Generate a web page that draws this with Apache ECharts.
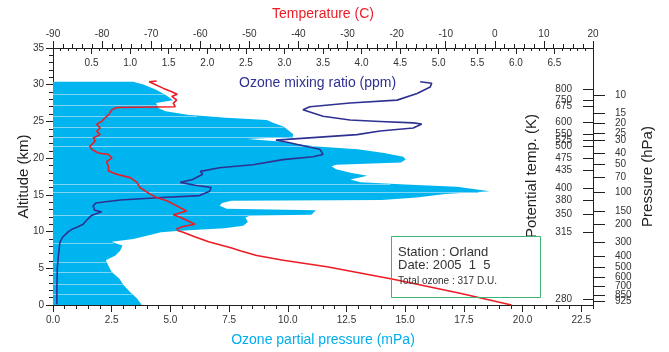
<!DOCTYPE html>
<html>
<head>
<meta charset="utf-8">
<script src="https://cdn.jsdelivr.net/npm/echarts@6.0.0/dist/echarts.min.js"></script>
<style>
  html, body { margin: 0; padding: 0; background: #fff; }
  #ozone { width: 669px; height: 352px; }
</style>
</head>
<body>
<div id="ozone"></div>
<script>
// ozone partial pressure profile (mPa) vs altitude (km)
var ppAlt = [0, 0.45, 0.9, 1.8, 2.7, 3.6, 4.5, 5.4, 6.1, 6.75, 7.4, 8.1, 8.4, 8.6, 9.0, 9.5, 9.9, 10.1,
  10.45, 10.8, 11.3, 11.9, 12.2, 12.3, 12.9, 13.1, 13.5, 13.9, 14.2, 14.3, 14.65, 15.1, 15.5, 15.8,
  16.1, 16.4, 16.7, 17.1, 17.6, 18.0, 18.5, 18.9, 19.1, 19.4, 19.8, 20.2, 20.7, 21.2, 21.6, 22.0,
  22.3, 22.6, 22.9, 23.3, 23.8, 24.3, 24.8, 25.2, 25.5, 25.9, 26.4, 26.8, 27.5, 27.9, 28.6, 29.3, 30.0, 30.4];
var ozonePP = [3.78, 3.68, 3.58, 3.27, 3.01, 2.82, 2.5, 2.35, 2.25, 2.66, 2.86, 2.96, 2.66, 2.5, 3.42, 4.09, 4.6, 5.42,
  7.3, 8.1, 8.3, 8.2, 8.4, 11.0, 11.2, 7.4, 7.1, 7.2, 7.6, 14.0, 15.5, 16.7, 18.6, 17.9,
  17.2, 15.0, 13.1, 12.67, 13.39, 12.67, 12.06, 11.86, 12.06, 14.82, 15.02, 14.92, 14.1, 12.98, 11.24, 10.22,
  9.5, 8.28, 10.22, 10.22, 10.02, 9.81, 9.4, 9.1, 7.36, 5.72, 4.8, 4.5, 4.39, 5.11, 4.8, 4.39, 3.88, 3.42];
// pale seams seen across the filled profile
var seamAlt = [1.45, 2.9, 4.5, 5.9, 8.5, 12.2, 15.4, 16.5, 21.6, 22.9, 24.3, 25.8, 27.3, 28.7];

// temperature (C)
var tAlt = [0, 1.6, 3.5, 5.2, 6.1, 6.75, 7.4, 7.75, 8.6, 9.25, 9.9, 10.1, 10.4, 10.7, 11.0, 11.6, 11.95, 12.3, 12.8,
  13.5, 14.2, 14.65, 15.1, 15.3, 16.0, 16.7, 17.35, 17.8, 18.25, 18.9, 19.5, 20.05, 20.5, 20.7, 21.2, 21.6,
  22.3, 22.75, 23.2, 23.65, 24.1, 24.6, 25.0, 25.5, 25.9, 26.6, 26.9, 27.0, 27.5, 27.9, 28.4, 28.7, 29.05,
  29.5, 30.4, 30.5];
var temp = [3.4, -7.1, -20.7, -34.2, -43.1, -48.5, -51.9, -53.6, -58.3, -61.0, -63.5, -64.5, -64.8, -63.5, -61.1, -63.0, -64.1, -65.5, -62.8,
  -64.8, -66.8, -68.9, -70.2, -70.2, -72.3, -72.9, -74.3, -77.0, -78.7, -78.7, -79.1, -78.0, -78.7, -80.8, -82.1, -82.5,
  -81.4, -81.8, -80.4, -81.1, -80.4, -81.1, -80.1, -79.4, -78.7, -78.0, -77.0, -65.1, -65.5, -64.8, -65.8, -64.7, -65.8,
  -67.5, -70.4, -68.9];

// ozone mixing ratio (ppm)
var mrAlt = [0.1, 2.25, 5.0, 6.7, 8.6, 9.3, 10.0, 10.4, 10.6, 11.0, 11.7, 12.2, 12.7, 12.9, 13.5, 13.9, 14.3, 14.6,
  14.9, 15.5, 16.0, 16.3, 16.7, 17.1, 17.8, 18.2, 18.7, 19.1, 19.8, 20.2, 20.5, 21.2, 21.7, 22.1, 22.45,
  23.2, 23.7, 24.1, 24.65, 24.8, 25.0, 25.2, 25.7, 26.6, 27.0, 27.5, 27.9, 28.8, 29.7, 30.2, 30.4];
var mixRatio = [0.05, 0.05, 0.056, 0.07, 0.09, 0.13, 0.2, 0.26, 0.31, 0.39, 0.45, 0.5, 0.63, 0.54, 0.52, 0.56, 0.87, 1.36,
  1.9, 2.03, 2.05, 1.84, 1.65, 1.81, 1.94, 1.91, 2.16, 2.59, 2.98, 3.37, 3.5, 3.46, 3.24, 3.07, 2.89,
  3.94, 4.24, 4.67, 4.78, 4.67, 4.24, 3.85, 3.5, 3.24, 3.33, 3.85, 4.46, 4.72, 4.89, 4.91, 4.76];

// right side scales (altitude where each label sits)
var thetaLabels = [280, 315, 350, 380, 400, 435, 475, 500, 525, 550, 600, 675, 750, 800];
var thetaAlt = [0.8, 9.9, 12.3, 14.3, 15.9, 18.4, 20.0, 21.6, 22.4, 23.2, 24.9, 27.0, 27.9, 29.4];
var presLabels = [925, 850, 700, 600, 500, 400, 300, 200, 150, 100, 70, 50, 40, 30, 25, 20, 15, 10];
var presAlt = [0.46, 1.35, 2.6, 3.8, 5.2, 6.6, 8.6, 11.0, 12.8, 15.3, 17.35, 19.2, 20.6, 22.5, 23.4, 24.8, 26.1, 28.6];

var ppMajor = [0, 2.5, 5, 7.5, 10, 12.5, 15, 17.5, 20, 22.5];

var FONT = "'Liberation Sans', Arial, Helvetica, sans-serif";
var INK = '#231f20';

function pickLabel(values, labels) {
  return function (v) {
    if (v < 0.1) return '';
    var best = 0;
    for (var i = 1; i < values.length; i++) {
      if (Math.abs(values[i] - v) < Math.abs(values[best] - v)) best = i;
    }
    return String(labels[best]);
  };
}

// pp value of the profile at altitude a (for the seams only)
function ppAt(a) {
  for (var i = 1; i < ppAlt.length; i++) {
    if (ppAlt[i] >= a) {
      var f = (a - ppAlt[i - 1]) / (ppAlt[i] - ppAlt[i - 1]);
      return ozonePP[i - 1] + f * (ozonePP[i] - ozonePP[i - 1]);
    }
  }
  return 0;
}

// echarts drops the first label when it overlaps the next one,
// so the pressure scale gets an empty placeholder at the axis end
var presTicks = [0].concat(presAlt);

var myChart = echarts.init(document.getElementById('ozone'));

var tickLabel = { fontSize: 10, color: '#333', fontFamily: FONT };

myChart.setOption({
  animation: false,
  backgroundColor: '#fff',
  grid: { left: 53, top: 48, width: 540, height: 259 },
  xAxis: [
    {
      // ozone partial pressure, minor ticks every 0.5
      type: 'value', position: 'bottom', min: 0, max: 23, interval: 0.5,
      name: 'Ozone partial pressure (mPa)', nameLocation: 'middle', nameGap: 28, nameMoveOverlap: false,
      nameTextStyle: { color: '#00aeef', fontSize: 14, fontFamily: FONT },
      axisLine: { onZero: false, lineStyle: { color: INK } },
      axisTick: { length: 4, lineStyle: { color: INK } },
      axisLabel: Object.assign({ customValues: ppMajor, margin: 10, formatter: function (v) { return v.toFixed(1); } }, tickLabel),
      splitLine: { show: false }
    },
    {
      // long ticks for the same axis
      type: 'value', position: 'bottom', min: 0, max: 23,
      axisLine: { show: false, onZero: false },
      axisTick: { length: 7, customValues: ppMajor, lineStyle: { color: INK } },
      axisLabel: { show: false },
      splitLine: { show: false }
    },
    {
      type: 'value', position: 'top', min: -90, max: 20, interval: 10,
      name: 'Temperature (C)', nameLocation: 'middle', nameGap: 27, nameMoveOverlap: false,
      nameTextStyle: { color: '#ed1c24', fontSize: 14, fontFamily: FONT },
      axisLine: { onZero: false, lineStyle: { color: INK } },
      axisTick: { length: 7, lineStyle: { color: INK } },
      minorTick: { show: true, splitNumber: 5, length: 4, lineStyle: { color: INK } },
      axisLabel: Object.assign({ margin: 9 }, tickLabel),
      splitLine: { show: false }
    },
    {
      type: 'value', position: 'top', min: 0, max: 7, interval: 0.5,
      axisLine: { show: false, onZero: false },
      axisTick: { inside: true, length: 6, lineStyle: { color: INK } },
      minorTick: { show: true, splitNumber: 5, length: 3, lineStyle: { color: INK } },
      axisLabel: Object.assign({ inside: true, margin: 10, showMinLabel: false, showMaxLabel: false,
        formatter: function (v) { return v.toFixed(1); } }, tickLabel),
      splitLine: { show: false }
    }
  ],
  yAxis: [
    {
      type: 'value', position: 'left', min: 0, max: 35, interval: 5,
      name: 'Altitude (km)', nameLocation: 'middle', nameGap: 22, nameMoveOverlap: false,
      nameTextStyle: { color: INK, fontSize: 15, fontFamily: FONT },
      axisLine: { onZero: false, lineStyle: { color: INK } },
      axisTick: { length: 7, lineStyle: { color: INK } },
      minorTick: { show: true, splitNumber: 5, length: 4, lineStyle: { color: INK } },
      axisLabel: Object.assign({ margin: 9 }, tickLabel),
      splitLine: { show: false }
    },
    {
      // potential temperature (K), drawn inside the plot
      type: 'value', position: 'right', min: 0, max: 35,
      axisLine: { show: false, onZero: false },
      axisTick: { inside: true, length: 10, customValues: thetaAlt, lineStyle: { color: INK } },
      axisLabel: Object.assign({ inside: true, margin: 21, customValues: thetaAlt,
        formatter: pickLabel(thetaAlt, thetaLabels) }, tickLabel),
      splitLine: { show: false }
    },
    {
      // pressure (hPa)
      type: 'value', position: 'right', min: 0, max: 35,
      name: 'Pressure (hPa)', nameLocation: 'middle', nameGap: 47, nameMoveOverlap: false,
      nameTextStyle: { color: INK, fontSize: 15, fontFamily: FONT },
      axisLine: { onZero: false, lineStyle: { color: INK } },
      axisTick: { length: 12, customValues: presTicks, lineStyle: { color: INK } },
      axisLabel: Object.assign({ margin: 22, customValues: presTicks, showMinLabel: false,
        formatter: pickLabel(presAlt, presLabels) }, tickLabel),
      splitLine: { show: false }
    }
  ],
  graphic: [
    {
      type: 'text', x: 532, y: 176, rotation: Math.PI / 2,
      style: { text: 'Potential temp. (K)', x: 0, y: 0, align: 'center', verticalAlign: 'middle',
        font: '15px ' + FONT, fill: INK }
    },
    {
      type: 'text', x: 239, y: 83,
      style: { text: 'Ozone mixing ratio (ppm)', align: 'left', verticalAlign: 'middle',
        font: '14px ' + FONT, fill: '#2e3192' }
    },
    {
      type: 'rect', shape: { x: 391.5, y: 236.5, width: 149, height: 61 },
      style: { fill: 'none', stroke: '#3cb371', lineWidth: 1 }, z: 100
    },
    {
      type: 'text', x: 398, y: 252, z: 100,
      style: { text: 'Station : Orland', verticalAlign: 'middle', font: '13px ' + FONT, fill: '#333' }
    },
    {
      type: 'text', x: 398, y: 265, z: 100,
      style: { text: 'Date: 2005  1  5', verticalAlign: 'middle', font: '13px ' + FONT, fill: '#333' }
    },
    {
      type: 'text', x: 398, y: 281, z: 100,
      style: { text: 'Total ozone : 317 D.U.', verticalAlign: 'middle', font: '10px ' + FONT, fill: '#333' }
    }
  ],
  series: [
    {
      type: 'custom',
      name: 'partial pressure',
      xAxisIndex: 0, yAxisIndex: 0,
      data: ppAlt.map(function (a, i) { return [ozonePP[i], a]; }),
      renderItem: function (params, api) {
        if (params.dataIndex !== 0) return null;
        var pts = [api.coord([0, ppAlt[0]])];
        for (var i = 0; i < ppAlt.length; i++) pts.push(api.coord([ozonePP[i], ppAlt[i]]));
        pts.push(api.coord([0, ppAlt[ppAlt.length - 1]]));
        var children = [{ type: 'polygon', shape: { points: pts }, style: { fill: '#00b4ef' } }];
        seamAlt.forEach(function (a) {
          var p0 = api.coord([0, a]);
          var p1 = api.coord([ppAt(a), a]);
          children.push({ type: 'line', shape: { x1: p0[0], y1: Math.round(p0[1]) + 0.5, x2: p1[0], y2: Math.round(p0[1]) + 0.5 },
            style: { stroke: '#7fd5f6', lineWidth: 1 } });
        });
        return { type: 'group', children: children };
      },
      z: 1
    },
    {
      type: 'line',
      name: 'mixing ratio',
      xAxisIndex: 3, yAxisIndex: 0,
      data: mrAlt.map(function (a, i) { return [mixRatio[i], a]; }),
      showSymbol: false,
      lineStyle: { color: '#2e3192', width: 1.6 },
      z: 3
    },
    {
      type: 'line',
      name: 'temperature',
      xAxisIndex: 2, yAxisIndex: 0,
      data: tAlt.map(function (a, i) { return [temp[i], a]; }),
      showSymbol: false,
      lineStyle: { color: '#ed1c24', width: 1.6 },
      z: 4
    }
  ]
});
</script>
</body>
</html>
